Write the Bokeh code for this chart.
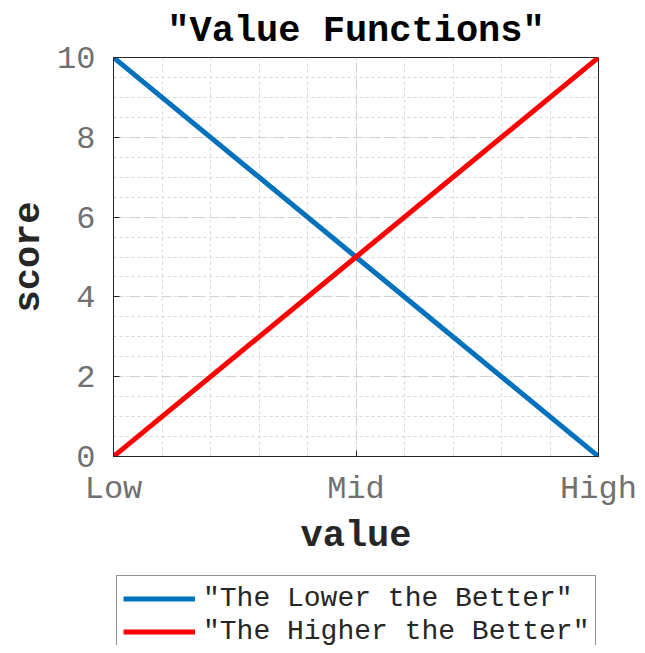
from bokeh.plotting import figure
from bokeh.models import Range1d, SingleIntervalTicker, Legend, LegendItem
from bokeh.layouts import column
from bokeh.embed import file_html
from bokeh.resources import INLINE

# ---- data ----
categories = ["Low", "Mid", "High"]
lower_better = [10, 5, 0]
higher_better = [0, 5, 10]
series_labels = ['"The Lower the Better"', '"The Higher the Better"']
title_text = '"Value Functions"'
x_label = "value"
y_label = "score"

x_pos = list(range(len(categories)))

FONT = "Liberation Mono"
DARK = "#262626"
BLUE = "#0072BD"
RED = "#FF0000"

p = figure(width=637, height=570, output_backend="svg", toolbar_location=None,
           x_range=Range1d(0, len(categories) - 1), y_range=Range1d(0, 10),
           min_border_left=113, min_border_right=39, min_border_top=57,
           min_border_bottom=114, background_fill_color="white",
           border_fill_color="white")

# title
p.title.text = title_text
p.title.text_font = FONT
p.title.text_font_size = "37px"
p.title.text_font_style = "bold"
p.title.text_color = "black"
p.title.align = "center"
p.title.standoff = 11

# lines
p.line(x_pos, lower_better, line_color=BLUE, line_width=5)
p.line(x_pos, higher_better, line_color=RED, line_width=5)

# axes
p.xaxis.ticker = SingleIntervalTicker(interval=1, num_minor_ticks=5)
p.xaxis.major_label_overrides = {i: c for i, c in zip(x_pos, categories)}
p.yaxis.ticker = SingleIntervalTicker(interval=2, num_minor_ticks=4)

for ax in (p.xaxis[0], p.yaxis[0]):
    ax.axis_line_color = DARK
    ax.major_tick_line_color = DARK
    ax.major_tick_in = 6
    ax.major_tick_out = 0
    ax.minor_tick_in = 0
    ax.minor_tick_out = 0
    ax.major_label_text_font = FONT
    ax.major_label_text_font_size = "32px"
    ax.major_label_text_color = "#707070"
    ax.axis_label_text_font = FONT
    ax.axis_label_text_font_size = "37px"
    ax.axis_label_text_font_style = "bold"
    ax.axis_label_text_color = DARK

p.xaxis.axis_label = x_label
p.yaxis.axis_label = y_label
p.xaxis.major_label_standoff = 14
p.xaxis.axis_label_standoff = 4
p.yaxis.major_label_standoff = 18
p.yaxis.axis_label_standoff = 4

p.outline_line_color = DARK
p.outline_line_width = 1

# grids
for g in (p.xgrid[0], p.ygrid[0]):
    g.grid_line_color = "#d0d0d0"
    g.grid_line_dash = "10 6"
    g.grid_line_width = 1
    g.minor_grid_line_color = "#d8d8d8"
    g.minor_grid_line_dash = "3 3"
    g.minor_grid_line_width = 1

# ---- legend strip (separate figure below the chart) ----
leg = figure(width=637, height=75, output_backend="svg", toolbar_location=None,
             x_range=Range1d(100, 101), y_range=Range1d(100, 101),
             x_axis_location=None, y_axis_location=None, min_border=0,
             title=None, outline_line_color=None,
             background_fill_color="white", border_fill_color="white")
leg.grid.visible = False
lr_low = leg.line(x_pos, lower_better, line_color=BLUE, line_width=5)
lr_high = leg.line(x_pos, higher_better, line_color=RED, line_width=5)

legend = Legend(items=[LegendItem(label=series_labels[0], renderers=[lr_low]),
                       LegendItem(label=series_labels[1], renderers=[lr_high])],
                location=(3, -10), orientation="vertical",
                label_text_font=FONT, label_text_font_size="28px",
                label_text_color=DARK, glyph_width=72, glyph_height=33,
                label_height=33, spacing=0, padding=6, margin=0,
                label_standoff=8, border_line_color=DARK, border_line_width=1,
                background_fill_color="white", background_fill_alpha=1)
leg.add_layout(legend, "center")

layout = column(p, leg, spacing=0)
open("out.html", "w").write(file_html(layout, INLINE))
